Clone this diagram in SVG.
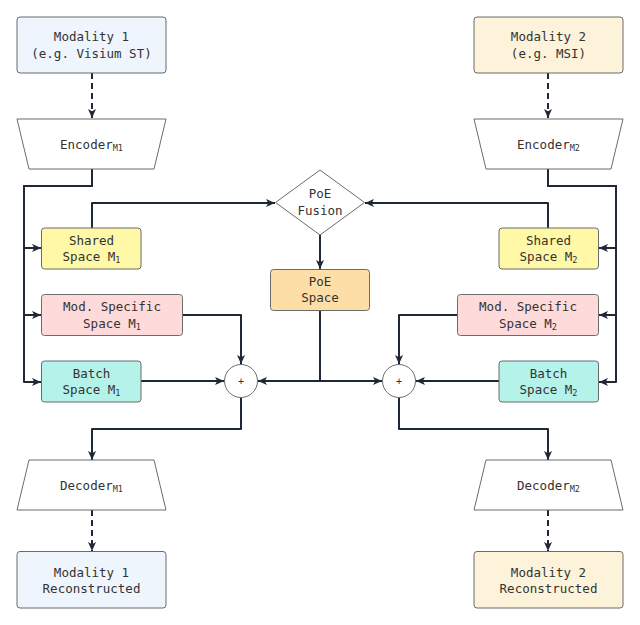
<svg xmlns="http://www.w3.org/2000/svg" width="640" height="625" viewBox="0 0 640 625">
  <style>
    .node { stroke: #6b6b6b; stroke-width: 1; }
    .t { font-family: "DejaVu Sans Mono", "Liberation Mono", monospace; font-size: 12.5px; fill: #333; text-anchor: middle; }
    .sub { font-size: 8.5px; }
    .c { fill: none; stroke: #1f2837; stroke-width: 2; stroke-linejoin: round; }
    .d { stroke-dasharray: 6 4; }
  </style>
  <defs>
    <marker id="ah" viewBox="0 0 10 10" refX="10" refY="5" markerWidth="10" markerHeight="9" markerUnits="userSpaceOnUse" orient="auto">
      <path d="M0,0.5 L10,5 L0,9.5 L2.5,5 z" fill="#1f2837"/>
    </marker>
  </defs>
  <rect width="640" height="625" fill="#ffffff"/>

  <g id="connectors">
    <path class="c d" d="M92,73 V118" marker-end="url(#ah)"/>
    <path class="c d" d="M548,73 V118" marker-end="url(#ah)"/>
    <path class="c" d="M92,169 V186 H24 V248 H41" marker-end="url(#ah)"/>
    <path class="c" d="M92,169 V186 H24 V315 H41" marker-end="url(#ah)"/>
    <path class="c" d="M92,169 V186 H24 V382 H41" marker-end="url(#ah)"/>
    <path class="c" d="M548,169 V186 H616 V248 H599" marker-end="url(#ah)"/>
    <path class="c" d="M548,169 V186 H616 V315 H599" marker-end="url(#ah)"/>
    <path class="c" d="M548,169 V186 H616 V382 H599" marker-end="url(#ah)"/>
    <path class="c" d="M92,228 V203 H275" marker-end="url(#ah)"/>
    <path class="c" d="M548,228 V203 H365" marker-end="url(#ah)"/>
    <path class="c" d="M320,235 V269" marker-end="url(#ah)"/>
    <path class="c" d="M320,311 V381 H258" marker-end="url(#ah)"/>
    <path class="c" d="M320,311 V381 H382" marker-end="url(#ah)"/>
    <path class="c" d="M183,315 H241 V364" marker-end="url(#ah)"/>
    <path class="c" d="M457,315 H399 V364" marker-end="url(#ah)"/>
    <path class="c" d="M141,381 H224" marker-end="url(#ah)"/>
    <path class="c" d="M499,381 H416" marker-end="url(#ah)"/>
    <path class="c" d="M241,398 V429 H92 V460" marker-end="url(#ah)"/>
    <path class="c" d="M399,398 V429 H548 V460" marker-end="url(#ah)"/>
    <path class="c d" d="M92,510 V551" marker-end="url(#ah)"/>
    <path class="c d" d="M548,510 V551" marker-end="url(#ah)"/>
  </g>

  <g id="modality1">
    <rect class="node" x="17" y="17" width="149" height="56" rx="3" fill="#EEF5FD"/>
    <text class="t" x="91.5" y="41">Modality 1</text>
    <text class="t" x="91.5" y="58">(e.g. Visium ST)</text>
  </g>
  <g id="modality2">
    <rect class="node" x="474" y="17" width="149" height="56" rx="3" fill="#FDF3DB"/>
    <text class="t" x="548.5" y="41">Modality 2</text>
    <text class="t" x="548.5" y="58">(e.g. MSI)</text>
  </g>

  <g id="encoder1">
    <path class="node" d="M17,119 H166 L154,169 H29 Z" fill="#ffffff" stroke-linejoin="round"/>
    <text class="t" x="91.5" y="149">Encoder<tspan class="sub" dy="2">M1</tspan></text>
  </g>
  <g id="encoder2">
    <path class="node" d="M474,119 H623 L611,169 H486 Z" fill="#ffffff" stroke-linejoin="round"/>
    <text class="t" x="548.5" y="149">Encoder<tspan class="sub" dy="2">M2</tspan></text>
  </g>

  <g id="poe-fusion">
    <path class="node" d="M320,170 L364.5,202.5 L320,235 L275.5,202.5 Z" fill="#ffffff" stroke-linejoin="round"/>
    <text class="t" x="320" y="198">PoE</text>
    <text class="t" x="320" y="214.5">Fusion</text>
  </g>
  <g id="poe-space">
    <rect class="node" x="270.5" y="269.5" width="99" height="41" rx="3" fill="#FDDEA6"/>
    <text class="t" x="320" y="286">PoE</text>
    <text class="t" x="320" y="302">Space</text>
  </g>

  <g id="shared1">
    <rect class="node" x="41.5" y="228" width="99.5" height="41" rx="3" fill="#FFF8A6"/>
    <text class="t" x="91.5" y="244.5">Shared</text>
    <text class="t" x="91.5" y="261">Space M<tspan class="sub" dy="2">1</tspan></text>
  </g>
  <g id="specific1">
    <rect class="node" x="41.5" y="294.5" width="141" height="41" rx="3" fill="#FFDADB"/>
    <text class="t" x="112" y="311">Mod. Specific</text>
    <text class="t" x="112" y="327.5">Space M<tspan class="sub" dy="2">1</tspan></text>
  </g>
  <g id="batch1">
    <rect class="node" x="41.5" y="361" width="99.5" height="41" rx="3" fill="#B5F2EA"/>
    <text class="t" x="91.5" y="377.5">Batch</text>
    <text class="t" x="91.5" y="394">Space M<tspan class="sub" dy="2">1</tspan></text>
  </g>

  <g id="shared2">
    <rect class="node" x="499" y="228" width="99.5" height="41" rx="3" fill="#FFF8A6"/>
    <text class="t" x="548.5" y="244.5">Shared</text>
    <text class="t" x="548.5" y="261">Space M<tspan class="sub" dy="2">2</tspan></text>
  </g>
  <g id="specific2">
    <rect class="node" x="457.5" y="294.5" width="141" height="41" rx="3" fill="#FFDADB"/>
    <text class="t" x="528" y="311">Mod. Specific</text>
    <text class="t" x="528" y="327.5">Space M<tspan class="sub" dy="2">2</tspan></text>
  </g>
  <g id="batch2">
    <rect class="node" x="499" y="361" width="99.5" height="41" rx="3" fill="#B5F2EA"/>
    <text class="t" x="548.5" y="377.5">Batch</text>
    <text class="t" x="548.5" y="394">Space M<tspan class="sub" dy="2">2</tspan></text>
  </g>

  <g id="sum1">
    <circle class="node" cx="241" cy="381" r="16.5" fill="#ffffff"/>
    <text class="t" x="241" y="385" style="font-size:10px">+</text>
  </g>
  <g id="sum2">
    <circle class="node" cx="399" cy="381" r="16.5" fill="#ffffff"/>
    <text class="t" x="399" y="385" style="font-size:10px">+</text>
  </g>

  <g id="decoder1">
    <path class="node" d="M29,460 H154 L166,510 H17 Z" fill="#ffffff" stroke-linejoin="round"/>
    <text class="t" x="91.5" y="490">Decoder<tspan class="sub" dy="2">M1</tspan></text>
  </g>
  <g id="decoder2">
    <path class="node" d="M486,460 H611 L623,510 H474 Z" fill="#ffffff" stroke-linejoin="round"/>
    <text class="t" x="548.5" y="490">Decoder<tspan class="sub" dy="2">M2</tspan></text>
  </g>

  <g id="reconstructed1">
    <rect class="node" x="17" y="551.5" width="149" height="56.5" rx="3" fill="#EEF5FD"/>
    <text class="t" x="91.5" y="577">Modality 1</text>
    <text class="t" x="91.5" y="593">Reconstructed</text>
  </g>
  <g id="reconstructed2">
    <rect class="node" x="474" y="551.5" width="149" height="56.5" rx="3" fill="#FDF3DB"/>
    <text class="t" x="548.5" y="577">Modality 2</text>
    <text class="t" x="548.5" y="593">Reconstructed</text>
  </g>
</svg>
